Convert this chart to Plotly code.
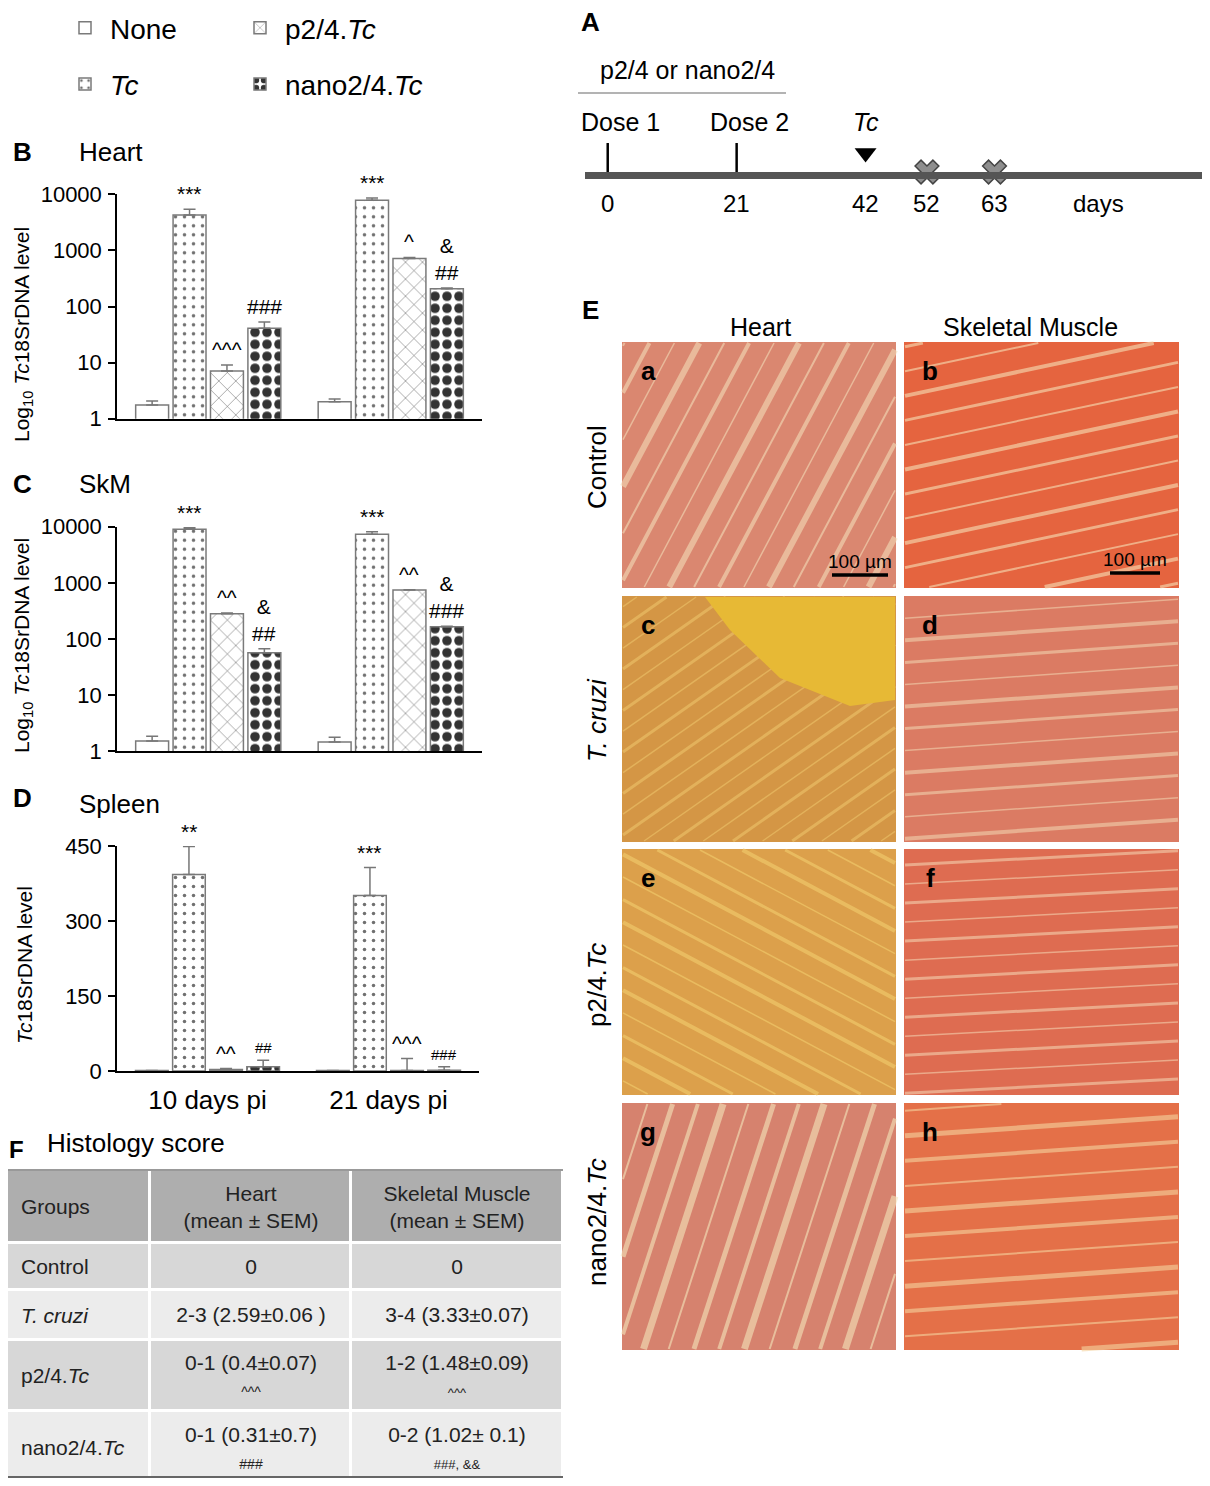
import math
import plotly.graph_objects as go

# page offset of the plot div (browser body margin) and figure size
OFF = 8
W, H = 1210 - 2 * OFF, 1486 - 2 * OFF
FONT = "Liberation Sans, Arial, Helvetica, sans-serif"

# ---- data -------------------------------------------------------------
categories = ["10 days pi", "21 days pi"]
group_names = ["None", "<i>Tc</i>", "p2/4.<i>Tc</i>", "nano2/4.<i>Tc</i>"]

# Tc18SrDNA level, one row per group, one value per time point
heart_mean = [[1.75, 2.0], [4270, 7800], [7.1, 720], [41, 207]]
heart_sem = [[0.32, 0.25], [1130, 800], [2.0, 30], [12, 6]]
heart_sig = [["", "***", "^^^", "###"], ["", "***", "^", "&<br>##"]]

skm_mean = [[1.52, 1.47], [8970, 7330], [282, 745], [57, 165]]
skm_sem = [[0.33, 0.31], [630, 800], [8, 10], [10, 3]]
skm_sig = [["", "***", "^^", "&<br>##"], ["", "***", "^^", "&<br>###"]]

spleen_mean = [[1, 1], [393, 351], [3, 1], [8.7, 1.5]]
spleen_sem = [[0, 0], [56, 56], [2, 24], [13, 7]]
spleen_sig = [["", "**", "^^", "##"], ["", "***", "^^^", "###"]]

log_ticks = [1, 10, 100, 1000, 10000]
spleen_ticks = [0, 150, 300, 450]

# timeline (days)
event_days = [0, 21, 42, 52, 63]
dose_days = [0, 21]
dose_labels = ["Dose 1", "Dose 2"]
infection_days = [42]
harvest_days = [52, 63]

# histology score table
hist_header = ["Groups", "Heart<br>(mean ± SEM)", "Skeletal Muscle<br>(mean ± SEM)"]
hist_groups = ["Control", "<i>T. cruzi</i>", "p2/4.<i>Tc</i>", "nano2/4.<i>Tc</i>"]
hist_heart = ["0", "2-3 (2.59±0.06 )", "0-1 (0.4±0.07)", "0-1 (0.31±0.7)"]
hist_heart_sig = ["", "", "^^^", "###"]
hist_skm = ["0", "3-4 (3.33±0.07)", "1-2 (1.48±0.09)", "0-2 (1.02± 0.1)"]
hist_skm_sig = ["", "", "^^^", "###, &&"]


def px(x):
    return (x - OFF) / W


def py(y):
    return 1 - (y - OFF) / H


def dom(a, b):
    return [max(0.0, min(1.0, a)), max(0.0, min(1.0, b))]


# ---- styling ----------------------------------------------------------
patterns = [
    dict(shape=""),
    dict(shape=".", fgcolor="#707070", size=9, solidity=0.12, fgopacity=1),
    dict(shape="x", fgcolor="#555555", size=12, solidity=0.08, fgopacity=1),
    dict(shape=".", fgcolor="#333333", size=12, solidity=0.5, fgopacity=1),
]
BARGAP = 0.18
TICK_FONT = dict(size=22, color="black", family=FONT)

fig = go.Figure()

panels = [
    # suffix, mean, sem, sig, log, left, right, top, bottom
    ("", heart_mean, heart_sem, heart_sig, True, 117, 482, 194.3, 418.7),
    ("2", skm_mean, skm_sem, skm_sig, True, 117, 482, 526.7, 751.3),
    ("3", spleen_mean, spleen_sem, spleen_sig, False, 117, 479, 846, 1071),
]

annotations = []
for suffix, mean, sem, sig, is_log, left, right, top, bottom in panels:
    for g in range(4):
        fig.add_trace(go.Bar(
            x=categories, y=mean[g], name=group_names[g],
            xaxis="x" + suffix, yaxis="y" + suffix,
            marker=dict(color="white", line=dict(color="#7a7a7a", width=1.5),
                        pattern=patterns[g]),
            error_y=dict(type="data", array=sem[g], arrayminus=[0] * len(sem[g]),
                         symmetric=False, color="#777777", thickness=1.5, width=6),
            showlegend=(suffix == ""),
            legend="legend" if g in (0, 1) else "legend2",
            legendgroup=str(g),
        ))
    slot = (right - left) / len(categories) * (1 - BARGAP) / 4
    for ci, cat in enumerate(categories):
        for g in range(4):
            txt_ = sig[ci][g]
            if not txt_:
                continue
            top_val = mean[g][ci] + sem[g][ci]
            small = (suffix == "3" and g == 3)
            annotations.append(dict(
                x=cat, xref="x" + suffix,
                y=math.log10(top_val) if is_log else top_val, yref="y" + suffix,
                text=txt_, showarrow=False, yanchor="bottom", xanchor="center",
                xshift=(g - 1.5) * slot, yshift=2,
                font=dict(size=15 if small else 21, color="black", family=FONT),
            ))

axis_common = dict(showline=True, linecolor="black", linewidth=1.5, showgrid=False,
                   zeroline=False, tickfont=TICK_FONT)

layout_axes = {}
for suffix, mean, sem, sig, is_log, left, right, top, bottom in panels:
    xa = dict(axis_common, domain=dom(px(left), px(right)), anchor="y" + suffix,
              ticks="", showticklabels=(suffix == "3"))
    if suffix == "3":
        xa.update(tickfont=dict(size=26, color="black", family=FONT), ticklabelstandoff=5)
    if is_log:
        ya = dict(axis_common, type="log", range=[0, 4], tickvals=log_ticks,
                  ticktext=[str(t) for t in log_ticks])
    else:
        ya = dict(axis_common, range=[0, 450], tickvals=spleen_ticks,
                  ticktext=[str(t) for t in spleen_ticks])
    ya.update(domain=dom(py(bottom), py(top)), anchor="x" + suffix, ticks="outside",
              ticklen=7, tickwidth=1.5, tickcolor="black", ticklabelstandoff=2)
    layout_axes["xaxis" + suffix] = xa
    layout_axes["yaxis" + suffix] = ya

# ---- timeline (panel A) ----------------------------------------------
tl_top, tl_bot = 130, 172
tl = dict(xaxis="x4", yaxis="y4", showlegend=False, cliponaxis=False, hoverinfo="skip")
fig.add_trace(go.Scatter(x=dose_days, y=[0.29] * len(dose_days), mode="markers",
                         marker=dict(symbol="line-ns", size=24,
                                     line=dict(color="black", width=2.5)), **tl))
fig.add_trace(go.Scatter(x=infection_days, y=[0.45] * len(infection_days), mode="markers",
                         marker=dict(symbol="triangle-down", size=19, color="black"), **tl))
fig.add_trace(go.Scatter(x=harvest_days, y=[0] * len(harvest_days), mode="markers",
                         marker=dict(symbol="x", size=21, color="#8e8e8e",
                                     line=dict(color="#444444", width=1.5)), **tl))
layout_axes["xaxis4"] = dict(domain=dom(px(585), 1), anchor="y4", range=[-3.7, 96.8],
                             showline=True, linecolor="#555555", linewidth=7,
                             showgrid=False, zeroline=False, showticklabels=False, ticks="")
layout_axes["yaxis4"] = dict(domain=dom(py(tl_bot), py(tl_top)), anchor="x4", range=[0, 1],
                             visible=False)


def txt(x, y, text, size=22, bold=False, xref="paper", yref="paper", angle=0,
        xanchor="center", color="black", **kw):
    if bold:
        text = "<b>" + text + "</b>"
    annotations.append(dict(x=x, y=y, xref=xref, yref=yref, text=text, showarrow=False,
                            textangle=angle, xanchor=xanchor, yanchor="middle",
                            font=dict(size=size, color=color, family=FONT), **kw))


for d in event_days:
    txt(d, py(203), str(d), size=24, xref="x4")
txt(80, py(203), "days", size=24, xref="x4")
for d, lab in zip(dose_days, dose_labels):
    txt(d, py(122), lab, size=25, xref="x4", xshift=13)
for d in infection_days:
    txt(d, py(122), "<i>Tc</i>", size=25, xref="x4")
txt(px(687), py(70), "p2/4 or nano2/4", size=25)
txt(px(590), py(22), "A", size=26, bold=True)

# ---- panel titles / axis titles (B-D) --------------------------------
txt(px(22), py(152), "B", size=26, bold=True)
txt(px(77), py(152), "Heart", size=26, xanchor="left")
txt(px(22), py(484), "C", size=26, bold=True)
txt(px(77), py(484), "SkM", size=26, xanchor="left")
txt(px(22), py(798), "D", size=26, bold=True)
txt(px(77), py(804), "Spleen", size=26, xanchor="left")
txt(px(23), py(335), "Log<sub>10</sub> <i>Tc</i>18SrDNA level", size=21, angle=-90)
txt(px(23), py(646), "Log<sub>10</sub> <i>Tc</i>18SrDNA level", size=21, angle=-90)
txt(px(24), py(965), "<i>Tc</i>18SrDNA level", size=21, angle=-90)

# ---- panel E: histology micrographs (drawn as stained areas) ---------
shapes = [dict(type="line", xref="paper", yref="paper", x0=px(578), x1=px(786),
               y0=py(93), y1=py(93), line=dict(color="#9a9a9a", width=1.5))]

# label, rect (px), base stain, fibre angle, spacing, streak colour, streak widths
photos = [
    ("a", 622, 896, 342, 588, "#DA8770", 62, 22, "#F4DDB8", [2, 4, 1.5, 6]),
    ("b", 904, 1179, 342, 588, "#E5643F", 12, 24, "#F7E1B8", [3, 2, 4]),
    ("c", 622, 896, 596, 842, "#D49645", 35, 17, "#EDC46A", [1.5, 3]),
    ("d", 904, 1179, 596, 842, "#DB7B63", 4, 22, "#F1D2AE", [3, 1.5, 4]),
    ("e", 622, 896, 849, 1095, "#DCA04B", -28, 20, "#F3CE6E", [3, 4, 1.5]),
    ("f", 904, 1179, 849, 1095, "#DE6C51", 3, 19, "#F4D3B0", [3, 1.5]),
    ("g", 622, 896, 1103, 1350, "#D6826E", 72, 24, "#F5E6BC", [4, 7, 2, 5]),
    ("h", 904, 1179, 1103, 1350, "#E47048", 4, 25, "#F6D4A0", [4, 2, 5]),
]


def clip_segment(cx, cy, dx, dy, x0, x1, y0, y1):
    tmin, tmax = -1e9, 1e9
    for c, d, lo, hi in ((cx, dx, x0, x1), (cy, dy, y0, y1)):
        if abs(d) < 1e-9:
            if c < lo or c > hi:
                return None
            continue
        t1, t2 = (lo - c) / d, (hi - c) / d
        tmin, tmax = max(tmin, min(t1, t2)), min(tmax, max(t1, t2))
    if tmin >= tmax:
        return None
    return cx + tmin * dx, cy + tmin * dy, cx + tmax * dx, cy + tmax * dy


for lab, x0, x1, y0, y1, col, ang, gap, scol, widths in photos:
    shapes.append(dict(type="rect", xref="paper", yref="paper", x0=px(x0), x1=px(x1),
                       y0=py(y1), y1=py(y0), fillcolor=col, line=dict(width=0),
                       layer="below"))
    dx, dy = math.cos(math.radians(ang)), -math.sin(math.radians(ang))
    nx, ny = -dy, dx
    mx, my = (x0 + x1) / 2, (y0 + y1) / 2
    k_max = int(math.hypot(x1 - x0, y1 - y0) / gap / 2) + 1
    for k in range(-k_max, k_max + 1):
        seg = clip_segment(mx + k * gap * nx, my + k * gap * ny, dx, dy,
                           x0 + 1, x1 - 1, y0 + 1, y1 - 1)
        if seg is None:
            continue
        sx0, sy0, sx1, sy1 = seg
        shapes.append(dict(type="line", xref="paper", yref="paper",
                           x0=px(sx0), y0=py(sy0), x1=px(sx1), y1=py(sy1),
                           line=dict(color=scol, width=widths[k % len(widths)]),
                           opacity=0.6))
    txt(px(x0 + 26), py(y0 + 29), lab, size=26, bold=True)

# bright mounting-medium area in panel c
shapes.append(dict(type="path", xref="paper", yref="paper", fillcolor="#E7B935",
                   line=dict(width=0),
                   path="M %f %f L %f %f L %f %f L %f %f L %f %f L %f %f Z" % (
                       px(705), py(597), px(895), py(597), px(895), py(700),
                       px(850), py(706), px(780), py(678), px(730), py(630))))

for x0, x1, yb in [(832, 888, 575), (1110, 1160, 573)]:
    shapes.append(dict(type="line", xref="paper", yref="paper", x0=px(x0), x1=px(x1),
                       y0=py(yb), y1=py(yb), line=dict(color="black", width=3.5)))
    txt(px((x0 + x1) / 2), py(yb - 14), "100 µm", size=19)

txt(px(590), py(310), "E", size=26, bold=True)
txt(px(760), py(327), "Heart", size=25)
txt(px(1030), py(327), "Skeletal Muscle", size=25)
for label, yc in [("Control", 467), ("<i>T. cruzi</i>", 720),
                  ("p2/4.<i>Tc</i>", 985), ("nano2/4.<i>Tc</i>", 1222)]:
    txt(px(597), py(yc), label, size=26, angle=-90)

# ---- panel F: histology score table (heatmap grid) --------------------
txt(px(16), py(1149), "F", size=24, bold=True)
txt(px(45), py(1143), "Histology score", size=26, xanchor="left")

col_w = [147, 201, 212]
row_h = [73, 47, 50, 71, 73]
col_edges = [sum(col_w[:i]) for i in range(len(col_w) + 1)]
row_edges = [sum(row_h[:i]) for i in range(len(row_h) + 1)]


def with_sig(vals, sigs, size):
    return [v + ("<br><span style='font-size:%dpx'>%s</span>" % (size, s) if s else "")
            for v, s in zip(vals, sigs)]


heart_cells = with_sig(hist_heart, hist_heart_sig, 14)
skm_cells = with_sig(hist_skm, hist_skm_sig, 13)
cell_text = [["", hist_header[1], hist_header[2]]]
cell_shade = [[0, 0, 0]]
for i in range(len(hist_groups)):
    cell_text.append(["", heart_cells[i], skm_cells[i]])
    cell_shade.append([0.5 if i % 2 == 0 else 1] * 3)

fig.add_trace(go.Heatmap(
    x=col_edges, y=row_edges, z=cell_shade, text=cell_text, texttemplate="%{text}",
    textfont=dict(size=21, color="#222222", family=FONT),
    colorscale=[[0, "#AEAEAE"], [0.5, "#D7D7D7"], [1, "#ECECEC"]], zmin=0, zmax=1,
    showscale=False, xgap=3, ygap=3, hoverinfo="skip", xaxis="x5", yaxis="y5",
))
# table area: x 3..563 px, y 1170..1484 px (clipped at the page edges)
tab_left = max(3, OFF)
tab_bot = min(1484, OFF + H)
x_start = tab_left - 3
layout_axes["xaxis5"] = dict(domain=dom(px(tab_left), px(563)), anchor="y5",
                             range=[x_start, col_edges[-1]], visible=False)
layout_axes["yaxis5"] = dict(domain=dom(py(tab_bot), py(1170)), anchor="x5",
                             range=[tab_bot - 1170, 0], visible=False)
# group names, left aligned in the first column
for i, lab in enumerate([hist_header[0]] + hist_groups):
    txt(x_start, (row_edges[i] + row_edges[i + 1]) / 2, lab, size=21, xref="x5",
        yref="y5", xanchor="left", xshift=16 - x_start, color="#222222")

shapes.append(dict(type="line", xref="paper", yref="paper", x0=px(tab_left), x1=px(563),
                   y0=py(1170), y1=py(1170), line=dict(color="#999999", width=2)))
shapes.append(dict(type="line", xref="paper", yref="paper", x0=px(tab_left), x1=px(563),
                   y0=py(tab_bot) + 0.0007, y1=py(tab_bot) + 0.0007,
                   line=dict(color="#666666", width=2)))

legend_common = dict(y=1 + 5 / H, yanchor="top", xanchor="left", bgcolor="rgba(0,0,0,0)",
                     font=dict(size=28, color="black", family=FONT), itemwidth=40,
                     tracegroupgap=17, traceorder="grouped")

fig.update_layout(
    width=W, height=H, margin=dict(l=0, r=0, t=0, b=0, autoexpand=False),
    paper_bgcolor="white", plot_bgcolor="white",
    font=dict(family=FONT, color="black"),
    barmode="group", bargap=BARGAP, bargroupgap=0.12,
    legend=dict(legend_common, x=px(60)),
    legend2=dict(legend_common, x=px(235)),
    annotations=annotations, shapes=shapes,
    **layout_axes,
)

fig.write_html("out.html")
